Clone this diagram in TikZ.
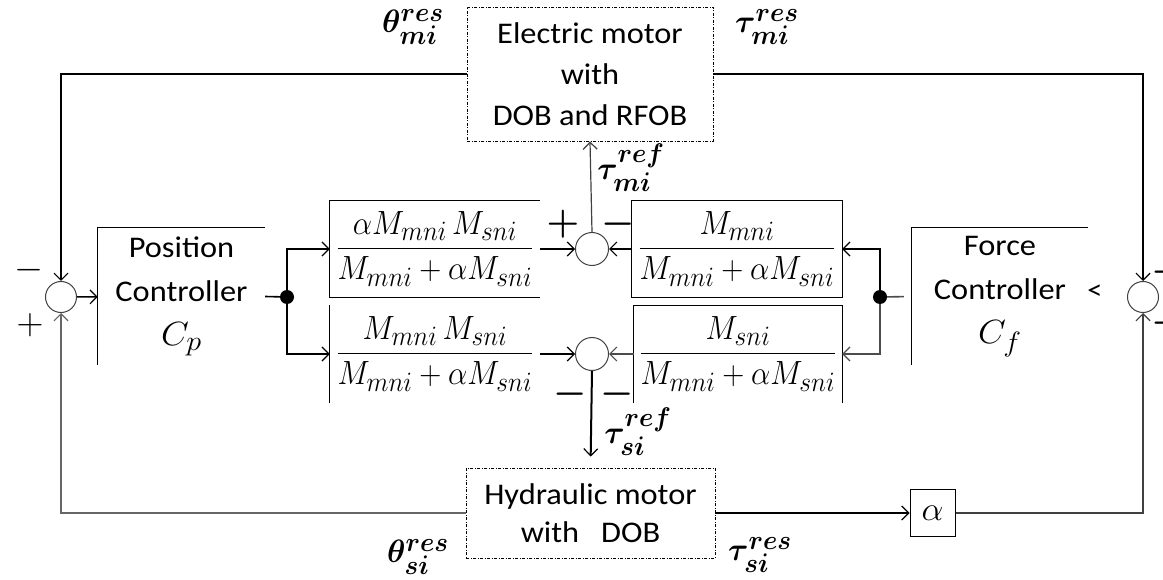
\documentclass[tikz,border=0pt]{standalone}
\usepackage{fontspec}
\setmainfont{Carlito}[FakeStretch=1.08]
\usepackage{amsmath,bm}
\usepackage{graphicx}
\usetikzlibrary{arrows.meta,positioning,calc}

\newcommand{\bigfrac}[1]{\scalebox{1.23}[1.35]{#1}}

\begin{document}
\begin{tikzpicture}[x=1pt, y=-1pt,
    sumj/.style={circle, draw=black!75, line width=1pt, minimum size=33pt, inner sep=0pt},
    jdot/.style={circle, fill=black, minimum size=14pt, inner sep=0pt},
    motor/.style={draw, line width=0.9pt, dash pattern=on 3pt off 1.5pt on 1pt off 1.5pt, inner sep=0pt, align=center},
    ctrl/.style={inner sep=0pt, align=center, font=\fontsize{30}{44}\selectfont},
    fracbox/.style={inner sep=0pt, minimum height=97pt, font=\fontsize{24.88}{30}\selectfont},
    gainbox/.style={draw, line width=1pt, minimum width=45pt, minimum height=47pt, inner sep=0pt, font=\fontsize{24.88}{30}\selectfont},
    sig/.style={font=\fontsize{24.88}{30}\selectfont, inner sep=0pt},
    sgn/.style={font=\fontsize{24.88}{30}\selectfont, inner sep=0pt},
    wire/.style={line width=1.6pt},
    frame/.style={line width=1pt},
    tip/.style={-{Straight Barb[length=7pt, width=14pt, line width=1.2pt]}}
]
\useasboundingbox (0,0) rectangle (1163,580);

% Motors
\node[motor, minimum width=246pt, minimum height=134pt, font=\fontsize{30}{41}\selectfont] (emot) at (590,74) {Electric motor\\with\\DOB and RFOB};
\node[motor, minimum width=249pt, minimum height=90pt, font=\fontsize{30}{38}\selectfont] (hmot) at (590.5,513) {Hydraulic motor\\with\ \ \ DOB};

% Controllers
\node[ctrl, minimum width=167pt, minimum height=137pt] (posC) at (181.5,296.5) {Position\\Controller\\{\fontsize{24.88}{30}\selectfont\scalebox{1.45}[1.35]{$C_p$}}};
\node[ctrl, minimum width=176pt, minimum height=137pt] (forceC) at (1000,296.5) {Force\\Controller\\{\fontsize{24.88}{30}\selectfont\scalebox{1.45}[1.35]{$C_f$}}};
\draw[frame] (posC.south west) -- (posC.north west) -- (posC.north east);
\draw[frame] (forceC.south west) -- (forceC.north west) -- (forceC.north east);

% Fraction blocks
\node[fracbox, minimum width=210pt] (fUL) at (435,249) {\bigfrac{$\dfrac{\alpha M_{mni}\,M_{sni}}{M_{mni}+\alpha M_{sni}}$}};
\node[fracbox, minimum width=210pt] (fUR) at (737,249) {\bigfrac{$\dfrac{M_{mni}}{M_{mni}+\alpha M_{sni}}$}};
\node[fracbox, minimum width=210pt] (fLL) at (435,354) {\bigfrac{$\dfrac{M_{mni}\,M_{sni}}{M_{mni}+\alpha M_{sni}}$}};
\node[fracbox, minimum width=208pt] (fLR) at (738,354) {\bigfrac{$\dfrac{M_{sni}}{M_{mni}+\alpha M_{sni}}$}};
\draw[frame] (fUL.north east) -- (fUL.north west) -- (fUL.south west) -- (fUL.south east);
\draw[frame] (fUR.south west) rectangle (fUR.north east);
\draw[frame] (fLL.north west) -- (fLL.south west);
\draw[frame] (fLR.south west) -- (fLR.north west) -- (fLR.north east) -- (fLR.south east);

% Summing junctions and branch points
\node[sumj] (sU) at (592,249) {};
\node[sumj] (sD) at (592,354) {};
\node[sumj, minimum size=31pt] (sL) at (61,297) {};
\node[sumj, minimum size=31pt] (sR) at (1143,297) {};
\node[jdot] (dL) at (287,297) {};
\node[jdot] (dR) at (880,297) {};
\node[gainbox] (gain) at (932.5,513) {\scalebox{1.4}[1.35]{$\alpha$}};

% Signs
\node[sgn] (pU) at (563,224) {\scalebox{1.5}{$\bm{+}$}};
\node[sgn] (mU) at (618,224) {\scalebox{1.5}{$\bm{-}$}};
\node[sgn] (mD1) at (570,394) {\scalebox{1.5}{$\bm{-}$}};
\node[sgn] (mD2) at (617,394) {\scalebox{1.5}{$\bm{-}$}};
\node[sgn] (mL) at (29,270) {\scalebox{1.5}{$-$}};
\node[sgn] (pL) at (30,325) {\scalebox{1.5}{$+$}};
\node[sgn] (mR1) at (1168,272) {\scalebox{1.5}{$\bm{-}$}};
\node[sgn] (mR2) at (1168,323) {\scalebox{1.5}{$\bm{-}$}};
\node[font=\fontsize{28}{28}\selectfont, inner sep=0pt] (lt) at (1095,292) {<};

% Signal labels
\node[sig] (thm) at (413,27) {\scalebox{1.25}[1.3]{$\bm{\theta_{mi}^{res}}$}};
\node[sig] (tam) at (767,27) {\scalebox{1.25}[1.3]{$\bm{\tau_{mi}^{res}}$}};
\node[sig] (tamr) at (631,168) {\scalebox{1.25}[1.3]{$\bm{\tau_{mi}^{ref}}$}};
\node[sig] (tasr) at (638,432) {\scalebox{1.25}[1.3]{$\bm{\tau_{si}^{ref}}$}};
\node[sig] (ths) at (418,557) {\scalebox{1.25}[1.3]{$\bm{\theta_{si}^{res}}$}};
\node[sig] (tas) at (760,555) {\scalebox{1.25}[1.3]{$\bm{\tau_{si}^{res}}$}};

% Forward paths
\draw[wire, tip] (sL) -- (posC);
\draw[wire] (posC.east) -- (dL);
\draw[wire, tip] (dL) |- (fUL.west);
\draw[wire, tip] (dL) |- (fLL.west);
\draw[wire, tip] (fUL.east) -- (sU.west);
\draw[wire, tip] (fUR.west) -- (sU.east);
\draw[wire, tip] (fLL.east) -- (sD.west);
\draw[wire, black!70, tip] (fLR.west) -- (sD.east);
\draw[line width=1.2pt, black!75, tip] (sU.north) -- (emot.south);
\draw[line width=2pt, tip, shorten >=11pt] (sD.south) -- (hmot.north);
\draw[wire, black!70, shorten <=8pt] (forceC.west) -- (dR);
\draw[wire, tip] (dR) |- (fUR.east);
\draw[wire, black!70, tip] (dR) |- (fLR.east);

% Feedback paths
\draw[wire, tip] (emot.west) -| (sL.north);
\draw[wire, tip] (emot.east) -| (sR.north);
\draw[wire, black!60, tip] (hmot.west) -| (sL.south);
\draw[wire, tip] (hmot.east) -- (gain.west);
\draw[wire, black!75, tip] (gain.east) -| (sR.south);

\end{tikzpicture}
\end{document}
